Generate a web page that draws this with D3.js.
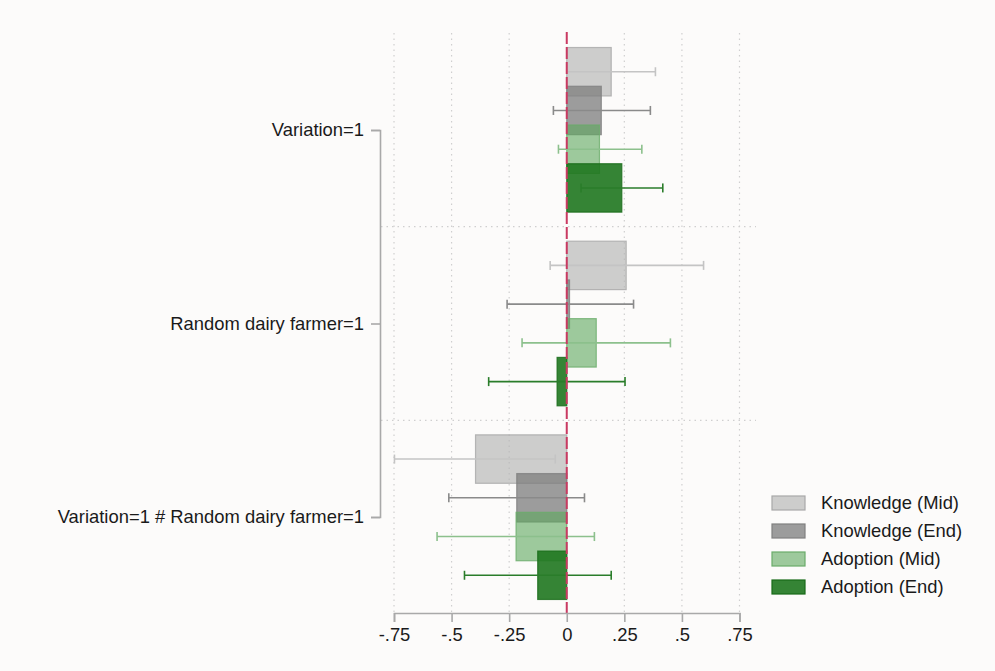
<!DOCTYPE html>
<html>
<head>
<meta charset="utf-8">
<script src="https://cdn.jsdelivr.net/npm/d3@7"></script>
<style>
  body { margin: 0; background: #fcfbfa; }
  text { font-family: "Liberation Sans", Arial, sans-serif; fill: #1a1a1a; }
</style>
</head>
<body>
<div class="chart"></div>
<script>
//Data
var groups = ["Variation=1", "Random dairy farmer=1", "Variation=1 # Random dairy farmer=1"];
var series = ["Knowledge (Mid)", "Knowledge (End)", "Adoption (Mid)", "Adoption (End)"];

// point estimate per group, one array per series
var knowMid = [0.193, 0.258, -0.396];
var knowEnd = [0.150, 0.012, -0.217];
var adopMid = [0.142, 0.128, -0.220];
var adopEnd = [0.239, -0.042, -0.126];

// 95% CI bounds
var knowMidLo = [0.001, -0.072, -0.748], knowMidHi = [0.385, 0.594, -0.050];
var knowEndLo = [-0.058, -0.259, -0.512], knowEndHi = [0.363, 0.290, 0.077];
var adopMidLo = [-0.036, -0.194, -0.563], adopMidHi = [0.326, 0.450, 0.120];
var adopEndLo = [0.062, -0.339, -0.444], adopEndHi = [0.417, 0.253, 0.193];

var xTicks = [-0.75, -0.5, -0.25, 0, 0.25, 0.5, 0.75];
var xTickLabels = ["-.75", "-.5", "-.25", "0", ".25", ".5", ".75"];

//Config
var width = 995,
    height = 671,
    fontSize = "18.4px";

var styles = [
  { fill: "#b4b4b4", fillOpacity: 0.65, stroke: "#a8a8a8", ci: "#c4c4c4" },
  { fill: "#7c7c7c", fillOpacity: 0.75, stroke: "#808080", ci: "#8a8a8a" },
  { fill: "#5ea85e", fillOpacity: 0.6, stroke: "#6aac6a", ci: "#8cc08c" },
  { fill: "#1f771f", fillOpacity: 0.9, stroke: "#186a18", ci: "#2a7d2a" }
];

var est = [knowMid, knowEnd, adopMid, adopEnd];
var lo = [knowMidLo, knowEndLo, adopMidLo, adopEndLo];
var hi = [knowMidHi, knowEndHi, adopMidHi, adopEndHi];

var rows = [];
series.forEach(function (s, i) {
  groups.forEach(function (g, j) {
    rows.push({ series: i, group: g, b: est[i][j], lo: lo[i][j], hi: hi[i][j] });
  });
});

//Scales
var x = d3.scaleLinear().domain([-0.75, 0.75]).range([394, 739.5]);
var y = d3.scaleBand().domain(groups).range([33, 614]);
var slot = y.bandwidth() / 5;
var barH = slot * 1.25;

function yc(d) {
  return y(d.group) + y.bandwidth() / 2 + (d.series - 1.5) * slot;
}

var svg = d3.select(".chart")
  .append("svg")
  .attr("width", width)
  .attr("height", height);

svg.append("rect").attr("width", width).attr("height", height).attr("fill", "#fcfbfa");

//Grid
svg.append("g")
  .selectAll("line")
  .data(xTicks.filter(function (t) { return t !== 0; }))
  .enter()
  .append("line")
  .attr("x1", function (d) { return x(d); })
  .attr("x2", function (d) { return x(d); })
  .attr("y1", 33)
  .attr("y2", 613)
  .attr("stroke", "#cfcfcf")
  .attr("stroke-width", 1.2)
  .attr("stroke-dasharray", "1.5,4");

svg.append("g")
  .selectAll("line")
  .data(groups.slice(1))
  .enter()
  .append("line")
  .attr("x1", 381)
  .attr("x2", 756)
  .attr("y1", function (d) { return y(d); })
  .attr("y2", function (d) { return y(d); })
  .attr("stroke", "#cfcfcf")
  .attr("stroke-width", 1.2)
  .attr("stroke-dasharray", "1.5,4");

//Bars and CIs
var marks = svg.append("g");
series.forEach(function (s, i) {
  var data = rows.filter(function (d) { return d.series === i; });
  var st = styles[i];

  marks.append("g")
    .selectAll("rect")
    .data(data)
    .enter()
    .append("rect")
    .attr("x", function (d) { return Math.min(x(0), x(d.b)); })
    .attr("width", function (d) { return Math.abs(x(d.b) - x(0)); })
    .attr("y", function (d) { return yc(d) - barH / 2; })
    .attr("height", barH)
    .attr("fill", st.fill)
    .attr("fill-opacity", st.fillOpacity)
    .attr("stroke", st.stroke)
    .attr("stroke-opacity", 0.8)
    .attr("stroke-width", 1.2);

  var ci = marks.append("g")
    .attr("stroke", st.ci)
    .attr("stroke-width", 1.6)
    .selectAll("g")
    .data(data)
    .enter()
    .append("g");

  ci.append("line")
    .attr("x1", function (d) { return x(d.lo); })
    .attr("x2", function (d) { return x(d.hi); })
    .attr("y1", yc)
    .attr("y2", yc);

  ci.selectAll(".cap")
    .data(function (d) { return [{ v: d.lo, y: yc(d) }, { v: d.hi, y: yc(d) }]; })
    .enter()
    .append("line")
    .attr("x1", function (d) { return x(d.v); })
    .attr("x2", function (d) { return x(d.v); })
    .attr("y1", function (d) { return d.y - 4.5; })
    .attr("y2", function (d) { return d.y + 4.5; });
});

//Zero line
svg.append("line")
  .attr("x1", x(0))
  .attr("x2", x(0))
  .attr("y1", 32)
  .attr("y2", 613)
  .attr("stroke", "#c93a62")
  .attr("stroke-width", 2)
  .attr("stroke-dasharray", "12,3");

//Axes
var xAxis = svg.append("g")
  .attr("transform", "translate(0,613)")
  .call(d3.axisBottom(x)
    .tickValues(xTicks)
    .tickFormat(function (d, i) { return xTickLabels[i]; })
    .tickSize(9)
    .tickPadding(6));

xAxis.select(".domain").attr("stroke", "#a9a9a9").attr("stroke-width", 1.6);
xAxis.selectAll(".tick line").attr("stroke", "#a9a9a9").attr("stroke-width", 1.6);
xAxis.selectAll(".tick text").style("font-size", fontSize).attr("fill", "#1a1a1a");

var yAxisScale = d3.scalePoint().domain(groups).range([130, 517]);
var yAxis = svg.append("g")
  .attr("transform", "translate(380,0)")
  .call(d3.axisLeft(yAxisScale)
    .tickSize(9)
    .tickPadding(7));

yAxis.select(".domain").attr("stroke", "#a9a9a9").attr("stroke-width", 1.6);
yAxis.selectAll(".tick line").attr("stroke", "#a9a9a9").attr("stroke-width", 1.6);
yAxis.selectAll(".tick text").style("font-size", fontSize).attr("fill", "#1a1a1a");

//Legend
var legend = svg.append("g")
  .selectAll("g")
  .data(series)
  .enter()
  .append("g")
  .attr("transform", function (d, i) { return "translate(772," + (503 + i * 28) + ")"; });

legend.append("rect")
  .attr("x", 0)
  .attr("y", -7)
  .attr("width", 33)
  .attr("height", 14)
  .attr("fill", function (d, i) { return styles[i].fill; })
  .attr("fill-opacity", function (d, i) { return styles[i].fillOpacity; })
  .attr("stroke", function (d, i) { return styles[i].stroke; })
  .attr("stroke-width", 1.2);

legend.append("text")
  .attr("x", 49)
  .attr("y", 0)
  .attr("dy", "0.35em")
  .style("font-size", fontSize)
  .text(function (d) { return d; });
</script>
</body>
</html>
